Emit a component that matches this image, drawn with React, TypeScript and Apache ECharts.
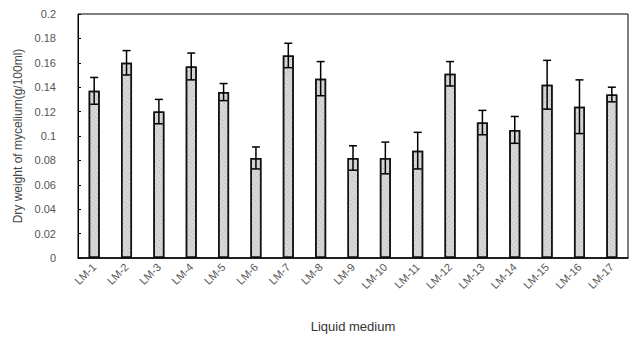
import React, { useEffect, useRef } from "react";
import * as echarts from "echarts";

const categories = ["LM-1","LM-2","LM-3","LM-4","LM-5","LM-6","LM-7","LM-8","LM-9","LM-10","LM-11","LM-12","LM-13","LM-14","LM-15","LM-16","LM-17"];
const means = [0.137,0.160,0.120,0.157,0.136,0.082,0.166,0.147,0.082,0.082,0.088,0.151,0.111,0.105,0.142,0.124,0.134];
const errors = [0.011,0.010,0.010,0.011,0.007,0.009,0.010,0.014,0.010,0.013,0.015,0.010,0.010,0.011,0.020,0.022,0.006];

export default function App() {
  const ref = useRef<HTMLDivElement>(null);
  useEffect(() => {
    if (!ref.current) return;
    const chart = echarts.init(ref.current, null, { renderer: "svg" });
    const font = "Liberation Sans";
    chart.setOption({
      animation: false,
      backgroundColor: "#ffffff",
      grid: { left: 78, right: 7, top: 14, bottom: 80, containLabel: false },
      xAxis: {
        type: "category",
        data: categories,
        name: "Liquid medium",
        nameLocation: "middle",
        nameGap: 62,
        nameTextStyle: { fontFamily: font, fontSize: 13, color: "#333" },
        axisLine: { show: true, lineStyle: { color: "#000", width: 1.5 } },
        axisTick: { show: false },
        axisLabel: { rotate: 45, fontFamily: font, fontSize: 11, color: "#555", margin: 7, interval: 0 },
        splitLine: { show: false },
      },
      yAxis: {
        type: "value",
        min: 0,
        max: 0.2,
        interval: 0.02,
        name: "Dry weight of mycelium(g/100ml)",
        nameLocation: "middle",
        nameGap: 50,
        nameTextStyle: { fontFamily: font, fontSize: 12, color: "#444" },
        axisLine: { show: true, lineStyle: { color: "#000", width: 1 } },
        axisTick: { show: true, inside: true, length: 3, lineStyle: { color: "#000" } },
        axisLabel: { fontFamily: font, fontSize: 11, color: "#555", margin: 22 },
        splitLine: { show: false },
      },
      graphic: [
        {
          type: "rect",
          shape: { x: 78, y: 14, width: 550, height: 244 },
          style: { fill: "none", stroke: "#000", lineWidth: 1 },
          silent: true,
          z: 10,
        },
      ],
      series: [
        {
          type: "bar",
          data: means,
          barWidth: 11,
          itemStyle: {
            color: "#d8d8d8",
            borderColor: "#111",
            borderWidth: 1.5,
            decal: {
              symbol: "rect",
              symbolSize: 0.8,
              dashArrayX: [1, 2],
              dashArrayY: [1, 2],
              rotation: 0.6,
              color: "rgba(90,90,90,0.4)",
            },
          },
        },
        {
          type: "custom",
          data: means.map((m, i) => [i, m - errors[i], m + errors[i]]),
          z: 5,
          renderItem: (params: any, api: any) => {
            const x = api.value(0);
            const lo = api.coord([x, api.value(1)]);
            const hi = api.coord([x, api.value(2)]);
            const hw = 4;
            const style = { stroke: "#000", lineWidth: 1.5 };
            return {
              type: "group",
              children: [
                { type: "line", shape: { x1: lo[0], y1: lo[1], x2: hi[0], y2: hi[1] }, style },
                { type: "line", shape: { x1: hi[0] - hw, y1: hi[1], x2: hi[0] + hw, y2: hi[1] }, style },
                { type: "line", shape: { x1: lo[0] - hw, y1: lo[1], x2: lo[0] + hw, y2: lo[1] }, style },
              ],
            };
          },
        },
      ],
    });
    return () => chart.dispose();
  }, []);
  return <div ref={ref} style={{ width: 635, height: 338, position: "absolute", left: 0, top: 0 }} />;
}
